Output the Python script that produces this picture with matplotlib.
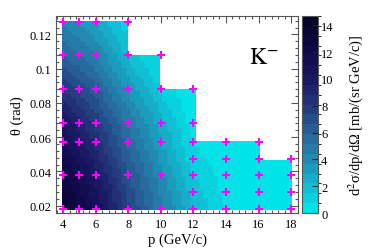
import numpy as np
import matplotlib
matplotlib.use("Agg")
import matplotlib.pyplot as plt
import matplotlib.tri as mtri
from matplotlib.colors import LinearSegmentedColormap, BoundaryNorm
from matplotlib.ticker import MultipleLocator

plt.rcParams['font.family'] = ['Liberation Serif', 'DejaVu Serif']
plt.rcParams['mathtext.fontset'] = 'stix'

# measured points: momentum columns and the angles measured in each
p_cols = [4, 5, 6, 8, 10, 12, 14, 16, 18]
theta_cols = [
    [0.018, 0.038, 0.057, 0.068, 0.088, 0.108, 0.127],
    [0.018, 0.038, 0.057, 0.068, 0.088, 0.108, 0.127],
    [0.018, 0.038, 0.057, 0.068, 0.088, 0.108, 0.127],
    [0.018, 0.038, 0.057, 0.068, 0.088, 0.108, 0.127],
    [0.018, 0.038, 0.057, 0.068, 0.088, 0.108],
    [0.018, 0.028, 0.038, 0.047, 0.057, 0.068, 0.088],
    [0.018, 0.028, 0.038, 0.047, 0.057],
    [0.018, 0.028, 0.038, 0.047, 0.057],
    [0.018, 0.028, 0.038, 0.047],
]
# d2sigma/dp/dOmega [mb/(sr GeV/c)], same order as theta_cols
xsec_cols = [
    [14.0, 12.8, 11.2, 10.4, 8.0, 6.0, 4.3],
    [12.8, 11.5, 10.0, 9.2, 7.2, 5.3, 3.7],
    [11.2, 10.0, 8.7, 8.0, 6.3, 4.5, 3.0],
    [7.6, 6.8, 5.7, 5.1, 3.6, 2.1, 0.9],
    [4.8, 4.0, 3.1, 2.7, 1.4, 0.5],
    [2.3, 1.9, 1.5, 1.1, 0.75, 0.45, 0.1],
    [0.75, 0.55, 0.4, 0.25, 0.1],
    [0.25, 0.2, 0.12, 0.08, 0.04],
    [0.08, 0.06, 0.04, 0.03],
]
z_max = 14.7
n_levels = 20

p_pts = np.concatenate([[p] * len(t) for p, t in zip(p_cols, theta_cols)])
th_pts = np.concatenate(theta_cols)
z_pts = np.concatenate(xsec_cols)

# palette (cyan -> dark navy)
pal_vals = [0, 2, 4, 6, 8, 10, 12, 14, 14.7]
pal_rgb = [(0, 228, 232), (20, 180, 205), (35, 135, 175), (40, 95, 150),
           (35, 55, 125), (25, 25, 100), (18, 10, 80), (8, 5, 50), (5, 5, 40)]
cmap = LinearSegmentedColormap.from_list(
    'ref_pal', [(v / z_max, tuple(c / 255 for c in rgb)) for v, rgb in zip(pal_vals, pal_rgb)])
levels = np.linspace(0, z_max, n_levels + 1)
norm = BoundaryNorm(levels, cmap.N)

# interpolate onto a fine grid like TGraph2D
tri = mtri.Triangulation(p_pts, th_pts)
interp = mtri.LinearTriInterpolator(tri, z_pts)
nb = 50
pe = np.linspace(min(p_cols), max(p_cols), nb + 1)
te = np.linspace(th_pts.min(), th_pts.max(), nb + 1)
pc = 0.5 * (pe[1:] + pe[:-1])
tc = 0.5 * (te[1:] + te[:-1])
PC, TC = np.meshgrid(pc, tc)
Z = interp(PC, TC)
col_max = [max(t) for t in theta_cols]
lim = np.array([col_max[np.searchsorted(p_cols, x)] for x in pc])
Z = np.ma.masked_where(np.ma.getmaskarray(Z) | (TC > lim[None, :] + 1e-4), Z)

fig = plt.figure(figsize=(3.74, 2.53), dpi=100)
ax = fig.add_axes([0.150, 0.154, 0.647, 0.779])
mesh = ax.pcolormesh(pe, te, Z, cmap=cmap, norm=norm, shading='flat',
                     edgecolors='face', linewidth=0.2)
ax.plot(p_pts, th_pts, 'P', color='#ff00ff', markersize=6, markeredgewidth=0)

ax.set_xlim(3.57, 18.43)
ax.set_ylim(0.0157, 0.1308)
ax.xaxis.set_major_locator(MultipleLocator(2))
ax.xaxis.set_minor_locator(MultipleLocator(0.4))
ax.yaxis.set_minor_locator(MultipleLocator(0.004))
ax.set_yticks([0.02, 0.04, 0.06, 0.08, 0.10, 0.12])
ax.set_yticklabels(['0.02', '0.04', '0.06', '0.08', '0.1', '0.12'])
ax.tick_params(which='both', direction='in', top=True, right=True, labelsize=9,
               color='#555555', width=0.8)
ax.tick_params(which='major', length=5)
ax.tick_params(which='minor', length=2.5)
for s in ax.spines.values():
    s.set_color('#555555')
ax.set_xlabel('p (GeV/c)', fontsize=10.5, labelpad=2)
ax.set_ylabel('θ (rad)', fontsize=10.5, labelpad=4)
ax.text(15.4, 0.1035, r'$\mathrm{K}^{-}$', fontsize=17)

cax = fig.add_axes([0.808, 0.154, 0.043, 0.779])
cb = fig.colorbar(mesh, cax=cax, ticks=np.arange(0, 15, 2))
cb.ax.tick_params(direction='in', length=4, labelsize=9, width=0.8, color='#222222', pad=2)
cb.outline.set_edgecolor('#555555')
cb.set_label(r'd$^{2}$σ/dp/dΩ [mb/(sr GeV/c)]', fontsize=10.5, labelpad=9)

fig.savefig('out.png', dpi=100)
